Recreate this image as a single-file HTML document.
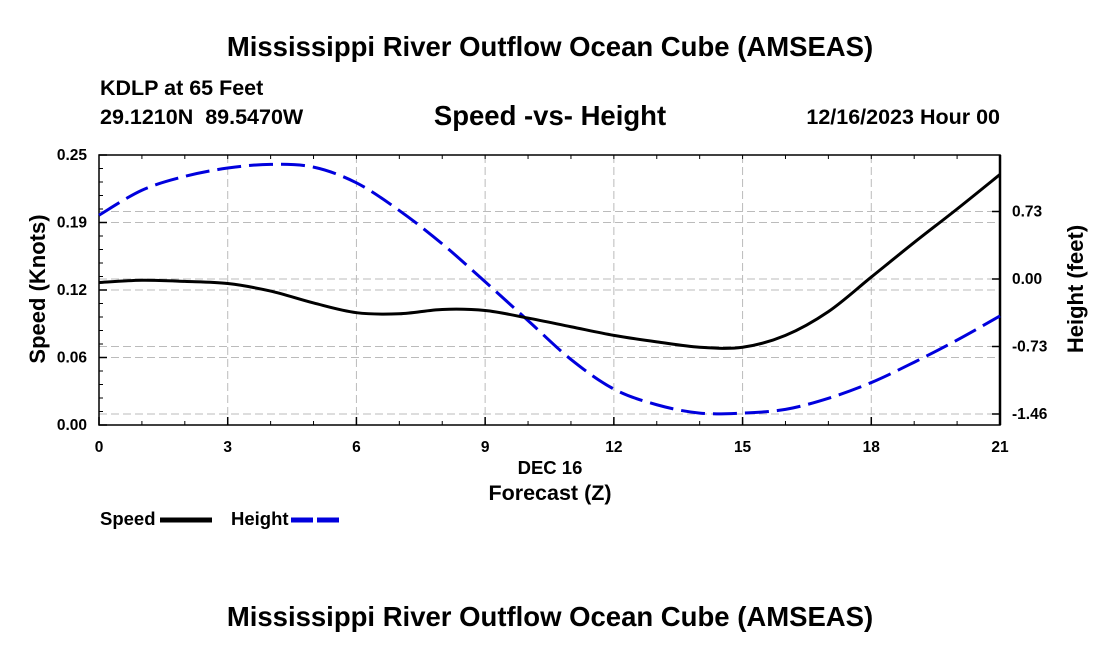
<!DOCTYPE html>
<html><head><meta charset="utf-8"><style>
html,body{margin:0;padding:0;background:#fff;}
svg{display:block;font-family:"Liberation Sans",Arial,sans-serif;}
</style></head><body>
<svg id="chart" width="1100" height="650" viewBox="0 0 1100 650">
<text x="550" y="56" text-anchor="middle" font-size="27.5" font-weight="bold">Mississippi River Outflow Ocean Cube (AMSEAS)</text>
<text x="100" y="95" font-size="21.5" font-weight="bold">KDLP at 65 Feet</text>
<text x="100" y="124" font-size="21.5" font-weight="bold">29.1210N&#160; 89.5470W</text>
<text x="550" y="125" text-anchor="middle" font-size="27.5" font-weight="bold">Speed -vs- Height</text>
<text x="1000" y="124" text-anchor="end" font-size="21.5" font-weight="bold">12/16/2023 Hour 00</text>
<g id="grid"></g>
<g id="axes"></g>
<g id="series"></g>
<text transform="translate(45,289) rotate(-90)" text-anchor="middle" font-size="22" font-weight="bold">Speed (Knots)</text>
<text transform="translate(1083,289) rotate(-90)" text-anchor="middle" font-size="22" font-weight="bold">Height (feet)</text>
<text x="550" y="474" text-anchor="middle" font-size="18.5" font-weight="bold">DEC 16</text>
<text x="550" y="500" text-anchor="middle" font-size="21.5" font-weight="bold">Forecast (Z)</text>
<g>
<text x="100" y="525" font-size="18.5" font-weight="bold">Speed</text>
<line x1="160" y1="520" x2="212" y2="520" stroke="#000" stroke-width="5"/>
<text x="231" y="525" font-size="18.5" font-weight="bold">Height</text>
<line x1="291" y1="520" x2="343" y2="520" stroke="#0000dd" stroke-width="5" stroke-dasharray="22,4"/>
</g>
<text x="550" y="626" text-anchor="middle" font-size="27.5" font-weight="bold">Mississippi River Outflow Ocean Cube (AMSEAS)</text>
</svg>
<script>
const hours=[0,1,2,3,4,5,6,7,8,9,10,11,12,13,14,15,16,17,18,19,20,21];
const speedValues=[0.132,0.134,0.133,0.131,0.124,0.113,0.104,0.103,0.107,0.106,0.099,0.091,0.083,0.077,0.072,0.072,0.083,0.105,0.137,0.169,0.200,0.232];
const heightValues=[0.69,0.96,1.11,1.20,1.24,1.21,1.04,0.74,0.38,-0.03,-0.45,-0.87,-1.19,-1.36,-1.45,-1.45,-1.41,-1.29,-1.12,-0.90,-0.66,-0.40];
const xTicks=[0,3,6,9,12,15,18,21];
const speedTicks=[0,0.0625,0.125,0.1875,0.25];
const speedTickLabels=["0.00","0.06","0.12","0.19","0.25"];
const heightTicks=[0.73,0,-0.73,-1.46];
const heightTickLabels=["0.73","0.00","-0.73","-1.46"];
const L=99,R=1000,T=155,B=425;
const xs=h=>L+(h-0)/21*(R-L);
const ys=v=>B-(v/0.25)*(B-T);
const yh=v=>279-v/0.73*67.5;
const NS="http://www.w3.org/2000/svg";
function mk(p,tag,at){const e=document.createElementNS(NS,tag);for(const k in at)e.setAttribute(k,at[k]);p.appendChild(e);return e;}
const grid=document.getElementById('grid'),axes=document.getElementById('axes'),series=document.getElementById('series');
xTicks.forEach((t,i)=>{if(t>0&&t<21){const l=mk(grid,'line',{x1:xs(t),x2:xs(t),y1:T,y2:B,stroke:'#bbb','stroke-dasharray':'8,4','stroke-width':1});

}
const tx=mk(axes,'text',{x:xs(t),y:452,'text-anchor':'middle','font-size':15.5,'font-weight':'bold'});tx.textContent=t;


mk(axes,'line',{x1:xs(t),x2:xs(t),y1:B,y2:B-8,stroke:'#000','stroke-width':1.5});});
for(let h=0;h<=21;h++){mk(axes,'line',{x1:xs(h),x2:xs(h),y1:B,y2:B-4,stroke:'#000'});mk(axes,'line',{x1:xs(h),x2:xs(h),y1:T,y2:T+4,stroke:'#000'});}
speedTicks.forEach((v,i)=>{if(v>0&&v<0.25){const l=mk(grid,'line',{x1:L,x2:R,y1:ys(v),y2:ys(v),stroke:'#bbb','stroke-dasharray':'8,4'});

}
const tx=mk(axes,'text',{x:L-12,y:ys(v)+5,'text-anchor':'end','font-size':15.5,'font-weight':'bold'});tx.textContent=speedTickLabels[i];


mk(axes,'line',{x1:L,x2:L+8,y1:ys(v),y2:ys(v),stroke:'#000','stroke-width':1.5});});
for(let v=0;v<=0.25;v+=0.0125){mk(axes,'line',{x1:L,x2:L+4,y1:ys(v),y2:ys(v),stroke:'#000'});}
heightTicks.forEach((v,i)=>{const l=mk(grid,'line',{x1:L,x2:R,y1:yh(v),y2:yh(v),stroke:'#bbb','stroke-dasharray':'8,4'});


const tx=mk(axes,'text',{x:R+12,y:yh(v)+5,'font-size':15.5,'font-weight':'bold'});tx.textContent=heightTickLabels[i];


mk(axes,'line',{x1:R,x2:R-8,y1:yh(v),y2:yh(v),stroke:'#000','stroke-width':1.5});});
mk(axes,'rect',{x:L,y:T,width:R-L,height:B-T,fill:'none',stroke:'#000','stroke-width':1.5});
mk(axes,'line',{x1:R,x2:R,y1:T,y2:B,stroke:'#000','stroke-width':2.5});
function smooth(pts){let d='M'+pts[0][0]+','+pts[0][1];for(let i=0;i<pts.length-1;i++){const p0=pts[i-1]||pts[i],p1=pts[i],p2=pts[i+1],p3=pts[i+2]||p2;
d+=' C'+(p1[0]+(p2[0]-p0[0])/6)+','+(p1[1]+(p2[1]-p0[1])/6)+' '+(p2[0]-(p3[0]-p1[0])/6)+','+(p2[1]-(p3[1]-p1[1])/6)+' '+p2[0]+','+p2[1];}return d;}
const hp=mk(series,'path',{d:smooth(hours.map((h,i)=>[xs(h),yh(heightValues[i])])),fill:'none',stroke:'#0000dd','stroke-width':3,'stroke-dasharray':'24,8'});


const sp=mk(series,'path',{d:smooth(hours.map((h,i)=>[xs(h),ys(speedValues[i])])),fill:'none',stroke:'#000','stroke-width':3});


</script>
</body></html>
